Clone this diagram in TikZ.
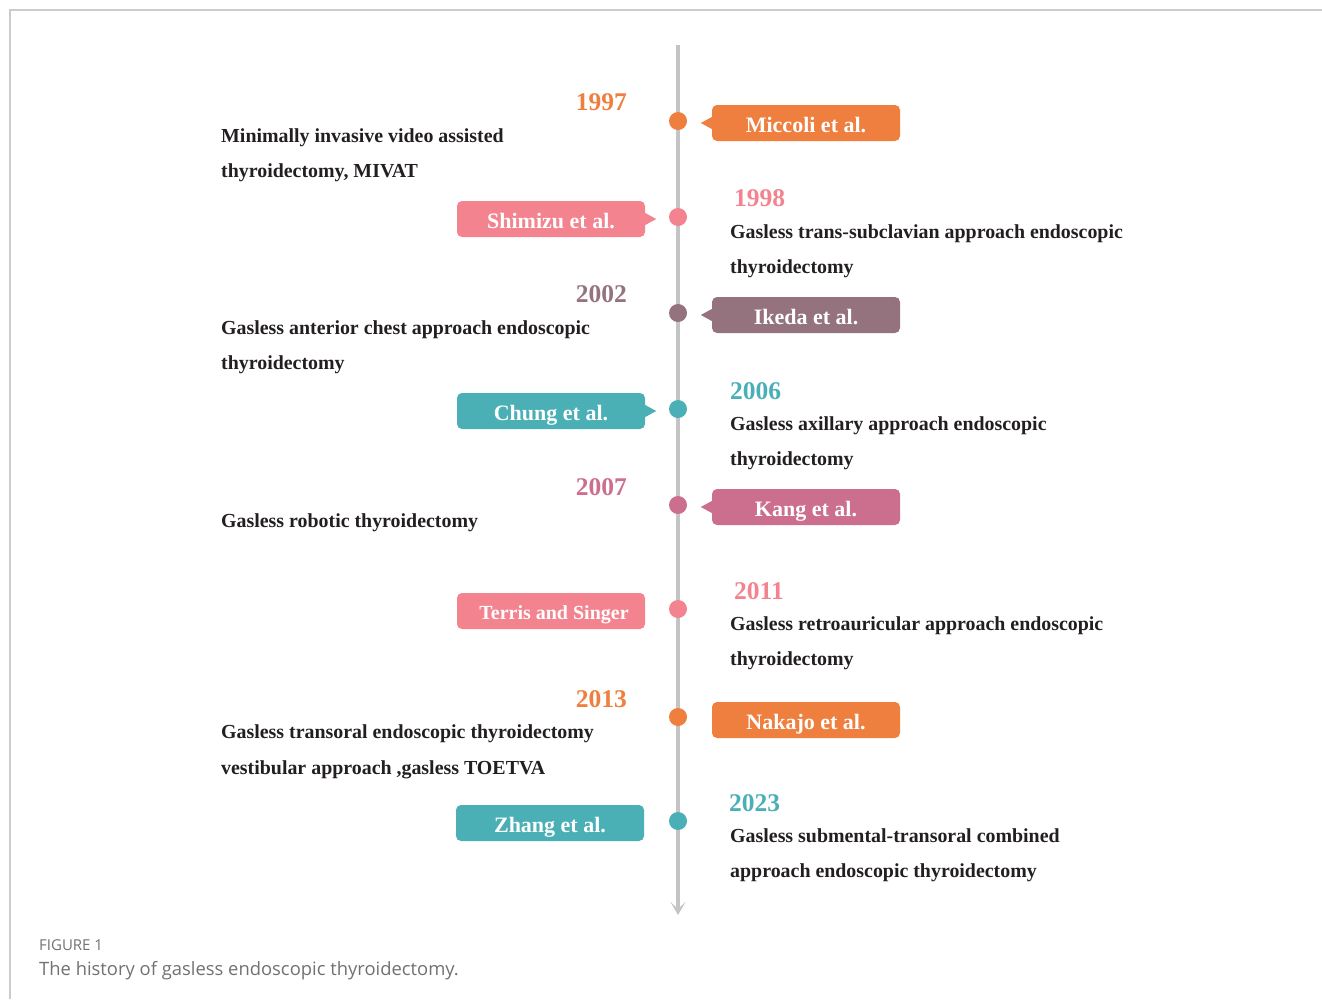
\documentclass[tikz,border=0pt]{standalone}
\usepackage{fontspec}
\setmainfont{Liberation Serif}
\newfontfamily\capfont{Open Sans}
\usetikzlibrary{arrows.meta}
\definecolor{corange}{HTML}{EF7F3E}
\definecolor{cpink}{HTML}{F3838F}
\definecolor{cmauve}{HTML}{94737F}
\definecolor{cteal}{HTML}{4BAFB6}
\definecolor{crose}{HTML}{CC6E8E}
\definecolor{caxis}{HTML}{C4C4C4}
\definecolor{cframe}{HTML}{CCCCCC}
\definecolor{ctext}{HTML}{231F20}
\definecolor{ccap}{HTML}{707173}
\begin{document}
\begin{tikzpicture}[x=1pt,y=-1pt,
  box/.style={rounded corners=5pt, minimum width=188pt, minimum height=36pt, inner sep=0pt,
    text height=20pt, text depth=1pt,
    text=white, font=\bfseries\fontsize{22}{22}\selectfont},
  desc/.style={anchor=base west, inner sep=0pt, text=ctext, font=\bfseries\fontsize{19.9}{19.9}\selectfont},
  yearL/.style={anchor=base east, inner sep=0pt, font=\bfseries\fontsize{25.5}{25.5}\selectfont},
  yearR/.style={anchor=base west, inner sep=0pt, font=\bfseries\fontsize{25.5}{25.5}\selectfont},
  dot/.style={circle, minimum size=18pt, inner sep=0pt},
  axisline/.style={draw=caxis, line width=3.5pt, -{Stealth[length=13pt,width=15pt,inset=7pt]}}]
\useasboundingbox (0,0) rectangle (1322,999);
% frame
\draw[cframe, line width=1.3pt] (10,999) -- (10,10) -- (1322,10);
% axis
\coordinate (atop) at (678,45);
\coordinate (abot) at (678,915);
\draw[axisline] (atop) -- (abot);
% dots
\node[dot, fill=corange] (d1) at (678,121) {};
\node[dot, fill=cpink] (d2) at (678,217) {};
\node[dot, fill=cmauve] (d3) at (678,313) {};
\node[dot, fill=cteal] (d4) at (678,409) {};
\node[dot, fill=crose] (d5) at (678,505) {};
\node[dot, fill=cpink] (d6) at (678,609) {};
\node[dot, fill=corange] (d7) at (678,717) {};
\node[dot, fill=cteal] (d8) at (678,821) {};
% boxes
\node[box, fill=corange] (b1) at (806,123) {Miccoli et al.};
\node[box, fill=cpink] (b2) at (551,219) {Shimizu et al.};
\node[box, fill=cmauve] (b3) at (806,315) {Ikeda et al.};
\node[box, fill=cteal] (b4) at (551,411) {Chung et al.};
\node[box, fill=crose] (b5) at (806,507) {Kang et al.};
\node[box, fill=cpink, font=\bfseries\fontsize{20}{20}\selectfont, text height=18pt, text depth=1pt] (b6) at (551,611) {\hspace*{6pt}Terris and Singer};
\node[box, fill=corange] (b7) at (806,720) {Nakajo et al.};
\node[box, fill=cteal] (b8) at (550,823) {Zhang et al.};
% pointers
\fill[corange] (b1.west) ++(0,-6) -- ++(-11,6) -- ++(11,6) -- cycle;
\fill[cpink] (b2.east) ++(0,-6) -- ++(11,6) -- ++(-11,6) -- cycle;
\fill[cmauve] (b3.west) ++(0,-6) -- ++(-11,6) -- ++(11,6) -- cycle;
\fill[cteal] (b4.east) ++(0,-6) -- ++(11,6) -- ++(-11,6) -- cycle;
\fill[crose] (b5.west) ++(0,-6) -- ++(-11,6) -- ++(11,6) -- cycle;
% years
\node[yearL, text=corange] (y1) at (627,110) {1997};
\node[yearR, text=cpink] (y2) at (734,206) {1998};
\node[yearL, text=cmauve] (y3) at (627,302) {2002};
\node[yearR, text=cteal] (y4) at (730,399) {2006};
\node[yearL, text=crose] (y5) at (627,495) {2007};
\node[yearR, text=cpink] (y6) at (734,599) {2011};
\node[yearL, text=corange] (y7) at (627,707) {2013};
\node[yearR, text=cteal] (y8) at (729,811) {2023};
% descriptions
\node[desc] (t1a) at (221,142) {Minimally invasive video assisted};
\node[desc] (t1b) at (221,177) {thyroidectomy, MIVAT};
\node[desc] (t2a) at (730,238) {Gasless trans-subclavian approach endoscopic};
\node[desc] (t2b) at (730,273) {thyroidectomy};
\node[desc] (t3a) at (221,334) {Gasless anterior chest approach endoscopic};
\node[desc] (t3b) at (221,369) {thyroidectomy};
\node[desc] (t4a) at (730,430) {Gasless axillary approach endoscopic};
\node[desc] (t4b) at (730,465) {thyroidectomy};
\node[desc] (t5a) at (221,527) {Gasless robotic thyroidectomy};
\node[desc] (t6a) at (730,630) {Gasless retroauricular approach endoscopic};
\node[desc] (t6b) at (730,665) {thyroidectomy};
\node[desc] (t7a) at (221,738) {Gasless transoral endoscopic thyroidectomy};
\node[desc] (t7b) at (221,774) {vestibular approach ,gasless TOETVA};
\node[desc] (t8a) at (730,842) {Gasless submental-transoral combined};
\node[desc] (t8b) at (730,877) {approach endoscopic thyroidectomy};
% caption
\node[anchor=base west, inner sep=0pt, text=ccap, font=\capfont\fontsize{15}{15}\selectfont] (cap1) at (39,950) {FIGURE 1};
\node[anchor=base west, inner sep=0pt, text=ccap, font=\capfont\fontsize{18.4}{18.4}\selectfont] (cap2) at (39,975) {The history of gasless endoscopic thyroidectomy.};
\end{tikzpicture}
\end{document}
